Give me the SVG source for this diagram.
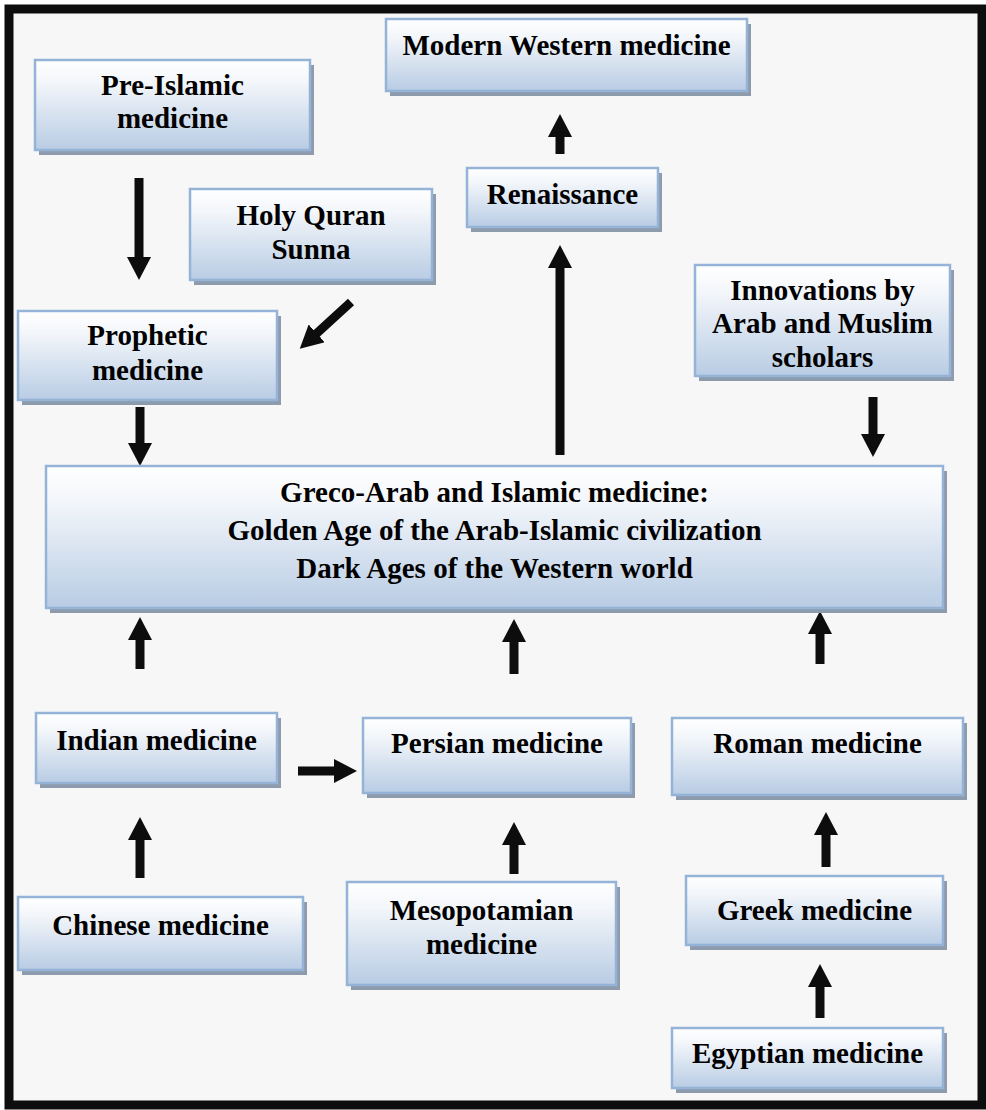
<svg xmlns="http://www.w3.org/2000/svg" width="986" height="1110" viewBox="0 0 986 1110">
<defs>
<linearGradient id="boxfill" x1="0" y1="0" x2="0" y2="1">
<stop offset="0" stop-color="#FFFFFF"/>
<stop offset="0.25" stop-color="#F3F6FA"/>
<stop offset="1" stop-color="#B8CCE4"/>
</linearGradient>
<marker id="head" markerUnits="userSpaceOnUse" viewBox="0 -12 23 24" markerWidth="23" markerHeight="24" refX="1" refY="0" orient="auto">
<path d="M0,-12 L23,0 L0,12 Z" fill="#0D0D0D"/>
</marker>
</defs>
<style>
.sh{fill:#8E9BAD}
.bx{fill:url(#boxfill);stroke:#95B3D7;stroke-width:2.5}
.t{font-family:"Liberation Serif","Times New Roman",serif;font-weight:bold;font-size:29px;fill:#000;text-anchor:middle}
.c{stroke:#0D0D0D;stroke-width:9;fill:none;marker-end:url(#head)}
</style>
<rect x="9" y="9" width="973" height="1096" fill="#F7F7F7" stroke="#0D0D0D" stroke-width="9"/>

<g id="connectors">
<line class="c" x1="139" y1="178" x2="139" y2="258"/>
<line class="c" x1="351" y1="302" x2="316" y2="334"/>
<line class="c" x1="140" y1="407" x2="140" y2="444"/>
<line class="c" x1="560" y1="455" x2="560" y2="267"/>
<line class="c" x1="560" y1="154" x2="560" y2="136"/>
<line class="c" x1="873" y1="397" x2="873" y2="435"/>
<line class="c" x1="140" y1="669" x2="140" y2="639"/>
<line class="c" x1="514" y1="674" x2="514" y2="641"/>
<line class="c" x1="820" y1="664" x2="820" y2="633"/>
<line class="c" x1="298" y1="771" x2="335" y2="771"/>
<line class="c" x1="140" y1="878" x2="140" y2="839"/>
<line class="c" x1="514" y1="874" x2="514" y2="844"/>
<line class="c" x1="826" y1="867" x2="826" y2="834"/>
<line class="c" x1="820" y1="1018" x2="820" y2="986"/>
</g>

<g id="pre-islamic">
<rect class="sh" x="39" y="65" width="275" height="90"/>
<rect class="bx" x="35" y="60" width="275" height="90"/>
<text class="t" x="172.5" y="95">Pre-Islamic</text>
<text class="t" x="172.5" y="128">medicine</text>
</g>

<g id="holy-quran">
<rect class="sh" x="194" y="194" width="242" height="91"/>
<rect class="bx" x="190" y="189" width="242" height="91"/>
<text class="t" x="311" y="225">Holy Quran</text>
<text class="t" x="311" y="259">Sunna</text>
</g>

<g id="prophetic">
<rect class="sh" x="22" y="316" width="259" height="89"/>
<rect class="bx" x="18" y="311" width="259" height="89"/>
<text class="t" x="147.5" y="345">Prophetic</text>
<text class="t" x="147.5" y="380">medicine</text>
</g>

<g id="modern">
<rect class="sh" x="390" y="24" width="361" height="72"/>
<rect class="bx" x="386" y="19" width="361" height="72"/>
<text class="t" x="566.5" y="55">Modern Western medicine</text>
</g>

<g id="renaissance">
<rect class="sh" x="471" y="173" width="191" height="59"/>
<rect class="bx" x="467" y="168" width="191" height="59"/>
<text class="t" x="562.5" y="204">Renaissance</text>
</g>

<g id="innovations">
<rect class="sh" x="699" y="270" width="255" height="111"/>
<rect class="bx" x="695" y="265" width="255" height="111"/>
<text class="t" x="822.5" y="300">Innovations by</text>
<text class="t" x="822.5" y="333">Arab and Muslim</text>
<text class="t" x="822.5" y="367">scholars</text>
</g>

<g id="greco-arab">
<rect class="sh" x="50" y="471" width="897" height="142"/>
<rect class="bx" x="46" y="466" width="897" height="142"/>
<text class="t" x="494.5" y="502">Greco-Arab and Islamic medicine:</text>
<text class="t" x="494.5" y="540">Golden Age of the Arab-Islamic civilization</text>
<text class="t" x="494.5" y="578">Dark Ages of the Western world</text>
</g>

<g id="indian">
<rect class="sh" x="40" y="718" width="241" height="70"/>
<rect class="bx" x="36" y="713" width="241" height="70"/>
<text class="t" x="156.5" y="750">Indian medicine</text>
</g>

<g id="persian">
<rect class="sh" x="367" y="723" width="268" height="75"/>
<rect class="bx" x="363" y="718" width="268" height="75"/>
<text class="t" x="497" y="753">Persian medicine</text>
</g>

<g id="roman">
<rect class="sh" x="676" y="723" width="291" height="77"/>
<rect class="bx" x="672" y="718" width="291" height="77"/>
<text class="t" x="817.5" y="753">Roman medicine</text>
</g>

<g id="chinese">
<rect class="sh" x="22" y="902" width="285" height="73"/>
<rect class="bx" x="18" y="897" width="285" height="73"/>
<text class="t" x="160.5" y="935">Chinese medicine</text>
</g>

<g id="mesopotamian">
<rect class="sh" x="351" y="887" width="269" height="103"/>
<rect class="bx" x="347" y="882" width="269" height="103"/>
<text class="t" x="481.5" y="920">Mesopotamian</text>
<text class="t" x="481.5" y="954">medicine</text>
</g>

<g id="greek">
<rect class="sh" x="690" y="881" width="257" height="69"/>
<rect class="bx" x="686" y="876" width="257" height="69"/>
<text class="t" x="814.5" y="920">Greek medicine</text>
</g>

<g id="egyptian">
<rect class="sh" x="676" y="1033" width="271" height="60"/>
<rect class="bx" x="672" y="1028" width="271" height="60"/>
<text class="t" x="807.5" y="1063">Egyptian medicine</text>
</g>
</svg>
